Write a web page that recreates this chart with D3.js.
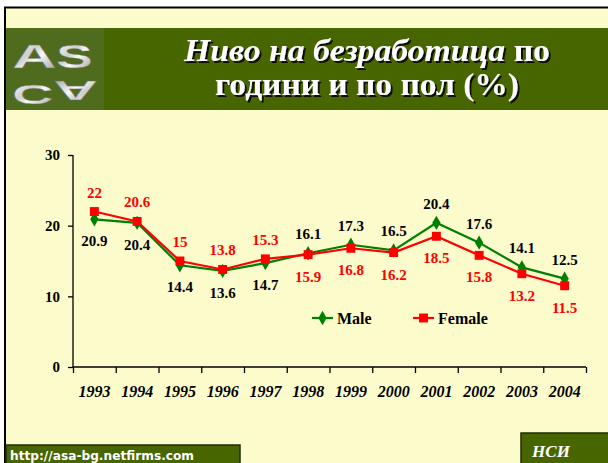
<!DOCTYPE html>
<html>
<head>
<meta charset="utf-8">
<script src="https://cdn.jsdelivr.net/npm/d3@7"></script>
<style>
  body { margin: 0; background: #fff; }
  svg { display: block; }
  .serif { font-family: "Liberation Serif", "Times New Roman", serif; font-weight: bold; }
</style>
</head>
<body>
<div id="chart"></div>
<script>
var years = ["1993", "1994", "1995", "1996", "1997", "1998", "1999", "2000", "2001", "2002", "2003", "2004"];
var male = [20.9, 20.4, 14.4, 13.6, 14.7, 16.1, 17.3, 16.5, 20.4, 17.6, 14.1, 12.5];
var female = [22, 20.6, 15, 13.8, 15.3, 15.9, 16.8, 16.2, 18.5, 15.8, 13.2, 11.5];
var yTicks = [0, 10, 20, 30];
var seriesNames = ["Male", "Female"];

var W = 608, H = 463;
var cream = "#fcfbcc", banner = "#476600";

var svg = d3.select("#chart").append("svg")
    .attr("width", W)
    .attr("height", H);

var defs = svg.append("defs");
var shadow = defs.append("filter").attr("id", "shadow")
    .attr("x", "-5%").attr("y", "-20%").attr("width", "110%").attr("height", "140%");
shadow.append("feDropShadow").attr("dx", 2).attr("dy", 2).attr("stdDeviation", 0.6)
    .attr("flood-color", "#111").attr("flood-opacity", 1);

// page background and frame
svg.append("rect").attr("x", 5).attr("y", 7).attr("width", W - 5).attr("height", H - 7).attr("fill", cream);
svg.append("line").attr("x1", 4).attr("x2", W).attr("y1", 7.5).attr("y2", 7.5).attr("stroke", "#000").attr("stroke-width", 2);
svg.append("line").attr("x1", 5).attr("x2", 5).attr("y1", 7).attr("y2", H).attr("stroke", "#000").attr("stroke-width", 2);

// title banner
svg.append("rect").attr("x", 6).attr("y", 28).attr("width", W - 6).attr("height", 82).attr("fill", banner);

// logo
var grad = defs.append("linearGradient").attr("id", "silver").attr("x1", 0).attr("y1", 0).attr("x2", 1).attr("y2", 1);
grad.append("stop").attr("offset", "0%").attr("stop-color", "#ffffff");
grad.append("stop").attr("offset", "40%").attr("stop-color", "#cfcfcf");
grad.append("stop").attr("offset", "55%").attr("stop-color", "#f8f8f8");
grad.append("stop").attr("offset", "100%").attr("stop-color", "#8e8e8e");
svg.append("rect").attr("x", 6).attr("y", 28).attr("width", 98).attr("height", 82).attr("fill", "#4f6c1e");
var logo = svg.append("g").attr("font-family", "Liberation Sans, Arial, sans-serif")
    .attr("font-weight", "bold").attr("fill", "url(#silver)")
    .attr("stroke", "#6b6b6b").attr("stroke-width", 0.6);
logo.append("text").attr("transform", "translate(12,68) scale(1.35,0.72)").attr("font-size", 46).text("A");
logo.append("text").attr("transform", "translate(56,68) scale(1.2,0.72)").attr("font-size", 46).text("S");
logo.append("text").attr("transform", "translate(12,104) scale(1.25,0.62)").attr("font-size", 46).text("C");
logo.append("text").attr("transform", "translate(98,81) rotate(180) scale(1.35,0.62)").attr("font-size", 46).text("A");

// title text with drop shadow
var title = svg.append("g").attr("fill", "#fff").attr("filter", "url(#shadow)");
function titleLine(yPos, len, parts) {
  var t = title.append("text").attr("class", "serif").attr("x", 367).attr("y", yPos)
      .attr("text-anchor", "middle").attr("font-size", 30.5)
      .attr("textLength", len).attr("lengthAdjust", "spacingAndGlyphs");
  parts.forEach(function (p) {
    t.append("tspan").attr("font-style", p[1] ? "italic" : "normal").text(p[0]);
  });
}
titleLine(61, 366, [["Ниво на безработица", true], [" по", false]]);
titleLine(95, 304, [["години и по пол (%)", false]]);

// chart scales
var x = d3.scaleBand().domain(years).range([73, 586]);
var xEdge = d3.scaleLinear().domain([0, years.length]).range([73, 586]);
var y = d3.scaleLinear().domain([0, 30]).range([367, 155]);

var yAxis = svg.append("g")
    .attr("transform", "translate(73,0)")
    .call(d3.axisLeft(y).tickValues(yTicks).tickSize(5).tickPadding(8).tickFormat(d3.format("d")));
yAxis.select(".domain").attr("d", "M0," + y(30) + "V" + y(0));

var xTicks = svg.append("g")
    .attr("transform", "translate(0,367)")
    .call(d3.axisBottom(xEdge).tickValues(d3.range(years.length + 1)).tickSize(6).tickFormat(""));
xTicks.select(".domain").attr("d", "M73,0H586");

var xAxis = svg.append("g")
    .attr("transform", "translate(0,367)")
    .call(d3.axisBottom(x).tickSize(0).tickPadding(19));
xAxis.select(".domain").remove();

[yAxis, xTicks].forEach(function (a) {
  a.selectAll("path, line").attr("stroke", "#000").attr("stroke-width", 1.3);
});
yAxis.selectAll("text").attr("class", "serif").attr("font-size", 15).attr("fill", "#000");
xAxis.selectAll("text").attr("class", "serif").attr("font-size", 16)
    .attr("font-style", "italic").attr("fill", "#000");

// series
var series = [
  { name: seriesNames[0], values: male, color: "#008000", symbol: d3.symbolDiamond, size: 60, labelColor: "#000" },
  { name: seriesNames[1], values: female, color: "#ff0000", symbol: d3.symbolSquare, size: 80, labelColor: "#ff0000" }
];

var line = d3.line()
    .x(function (d, i) { return x(years[i]) + x.bandwidth() / 2; })
    .y(function (d) { return y(d); });

series.forEach(function (s) {
  svg.append("path").datum(s.values)
      .attr("fill", "none").attr("stroke", s.color).attr("stroke-width", 2.2)
      .attr("d", line);
});
series.forEach(function (s) {
  svg.append("g").selectAll("path").data(s.values).enter().append("path")
      .attr("transform", function (d, i) {
        return "translate(" + (x(years[i]) + x.bandwidth() / 2) + "," + y(d) + ")";
      })
      .attr("d", d3.symbol().type(s.symbol).size(s.size))
      .attr("fill", s.color);
});

// data labels: male below / female above until the lines cross, then swapped
series.forEach(function (s, k) {
  svg.append("g").selectAll("text").data(s.values).enter().append("text")
      .attr("class", "serif")
      .attr("font-size", 15)
      .attr("fill", s.labelColor)
      .attr("text-anchor", "middle")
      .attr("x", function (d, i) { return x(years[i]) + x.bandwidth() / 2; })
      .attr("y", function (d, i) {
        var other = series[1 - k].values[i];
        var above = d >= other;
        if (i < 5) above = k === 1;
        return above ? y(d) - 14 : y(d) + 27;
      })
      .text(function (d) { return d; });
});

// legend
var legend = svg.append("g").selectAll("g").data(series).enter().append("g")
    .attr("transform", function (d, i) { return "translate(" + (312 + i * 101) + ",318)"; });
legend.append("line").attr("x1", 0).attr("x2", 21)
    .attr("stroke", function (d) { return d.color; }).attr("stroke-width", 2.2);
legend.append("path").attr("transform", "translate(10.5,0)")
    .attr("d", function (d) { return d3.symbol().type(d.symbol).size(d.size)(); })
    .attr("fill", function (d) { return d.color; });
legend.append("text").attr("class", "serif").attr("x", 25).attr("y", 6)
    .attr("font-size", 16).attr("fill", "#000")
    .text(function (d) { return d.name; });

// footer bars
svg.append("rect").attr("x", 6).attr("y", 445).attr("width", 234).attr("height", 20)
    .attr("fill", banner).attr("stroke", "#1f2d00").attr("stroke-width", 1.5);
svg.append("text").attr("x", 10).attr("y", 460)
    .attr("font-family", "DejaVu Sans, Verdana, sans-serif").attr("font-weight", "bold")
    .attr("font-size", 12.5).attr("fill", "#fff")
    .attr("textLength", 184).attr("lengthAdjust", "spacingAndGlyphs")
    .text("http://asa-bg.netfirms.com");
svg.append("rect").attr("x", 521).attr("y", 433).attr("width", 90).attr("height", 32)
    .attr("fill", banner).attr("stroke", "#1f2d00").attr("stroke-width", 1.5);
svg.append("text").attr("class", "serif").attr("x", 551).attr("y", 457)
    .attr("text-anchor", "middle").attr("font-style", "italic")
    .attr("font-size", 17).attr("fill", "#fff").text("НСИ");
</script>
</body>
</html>
